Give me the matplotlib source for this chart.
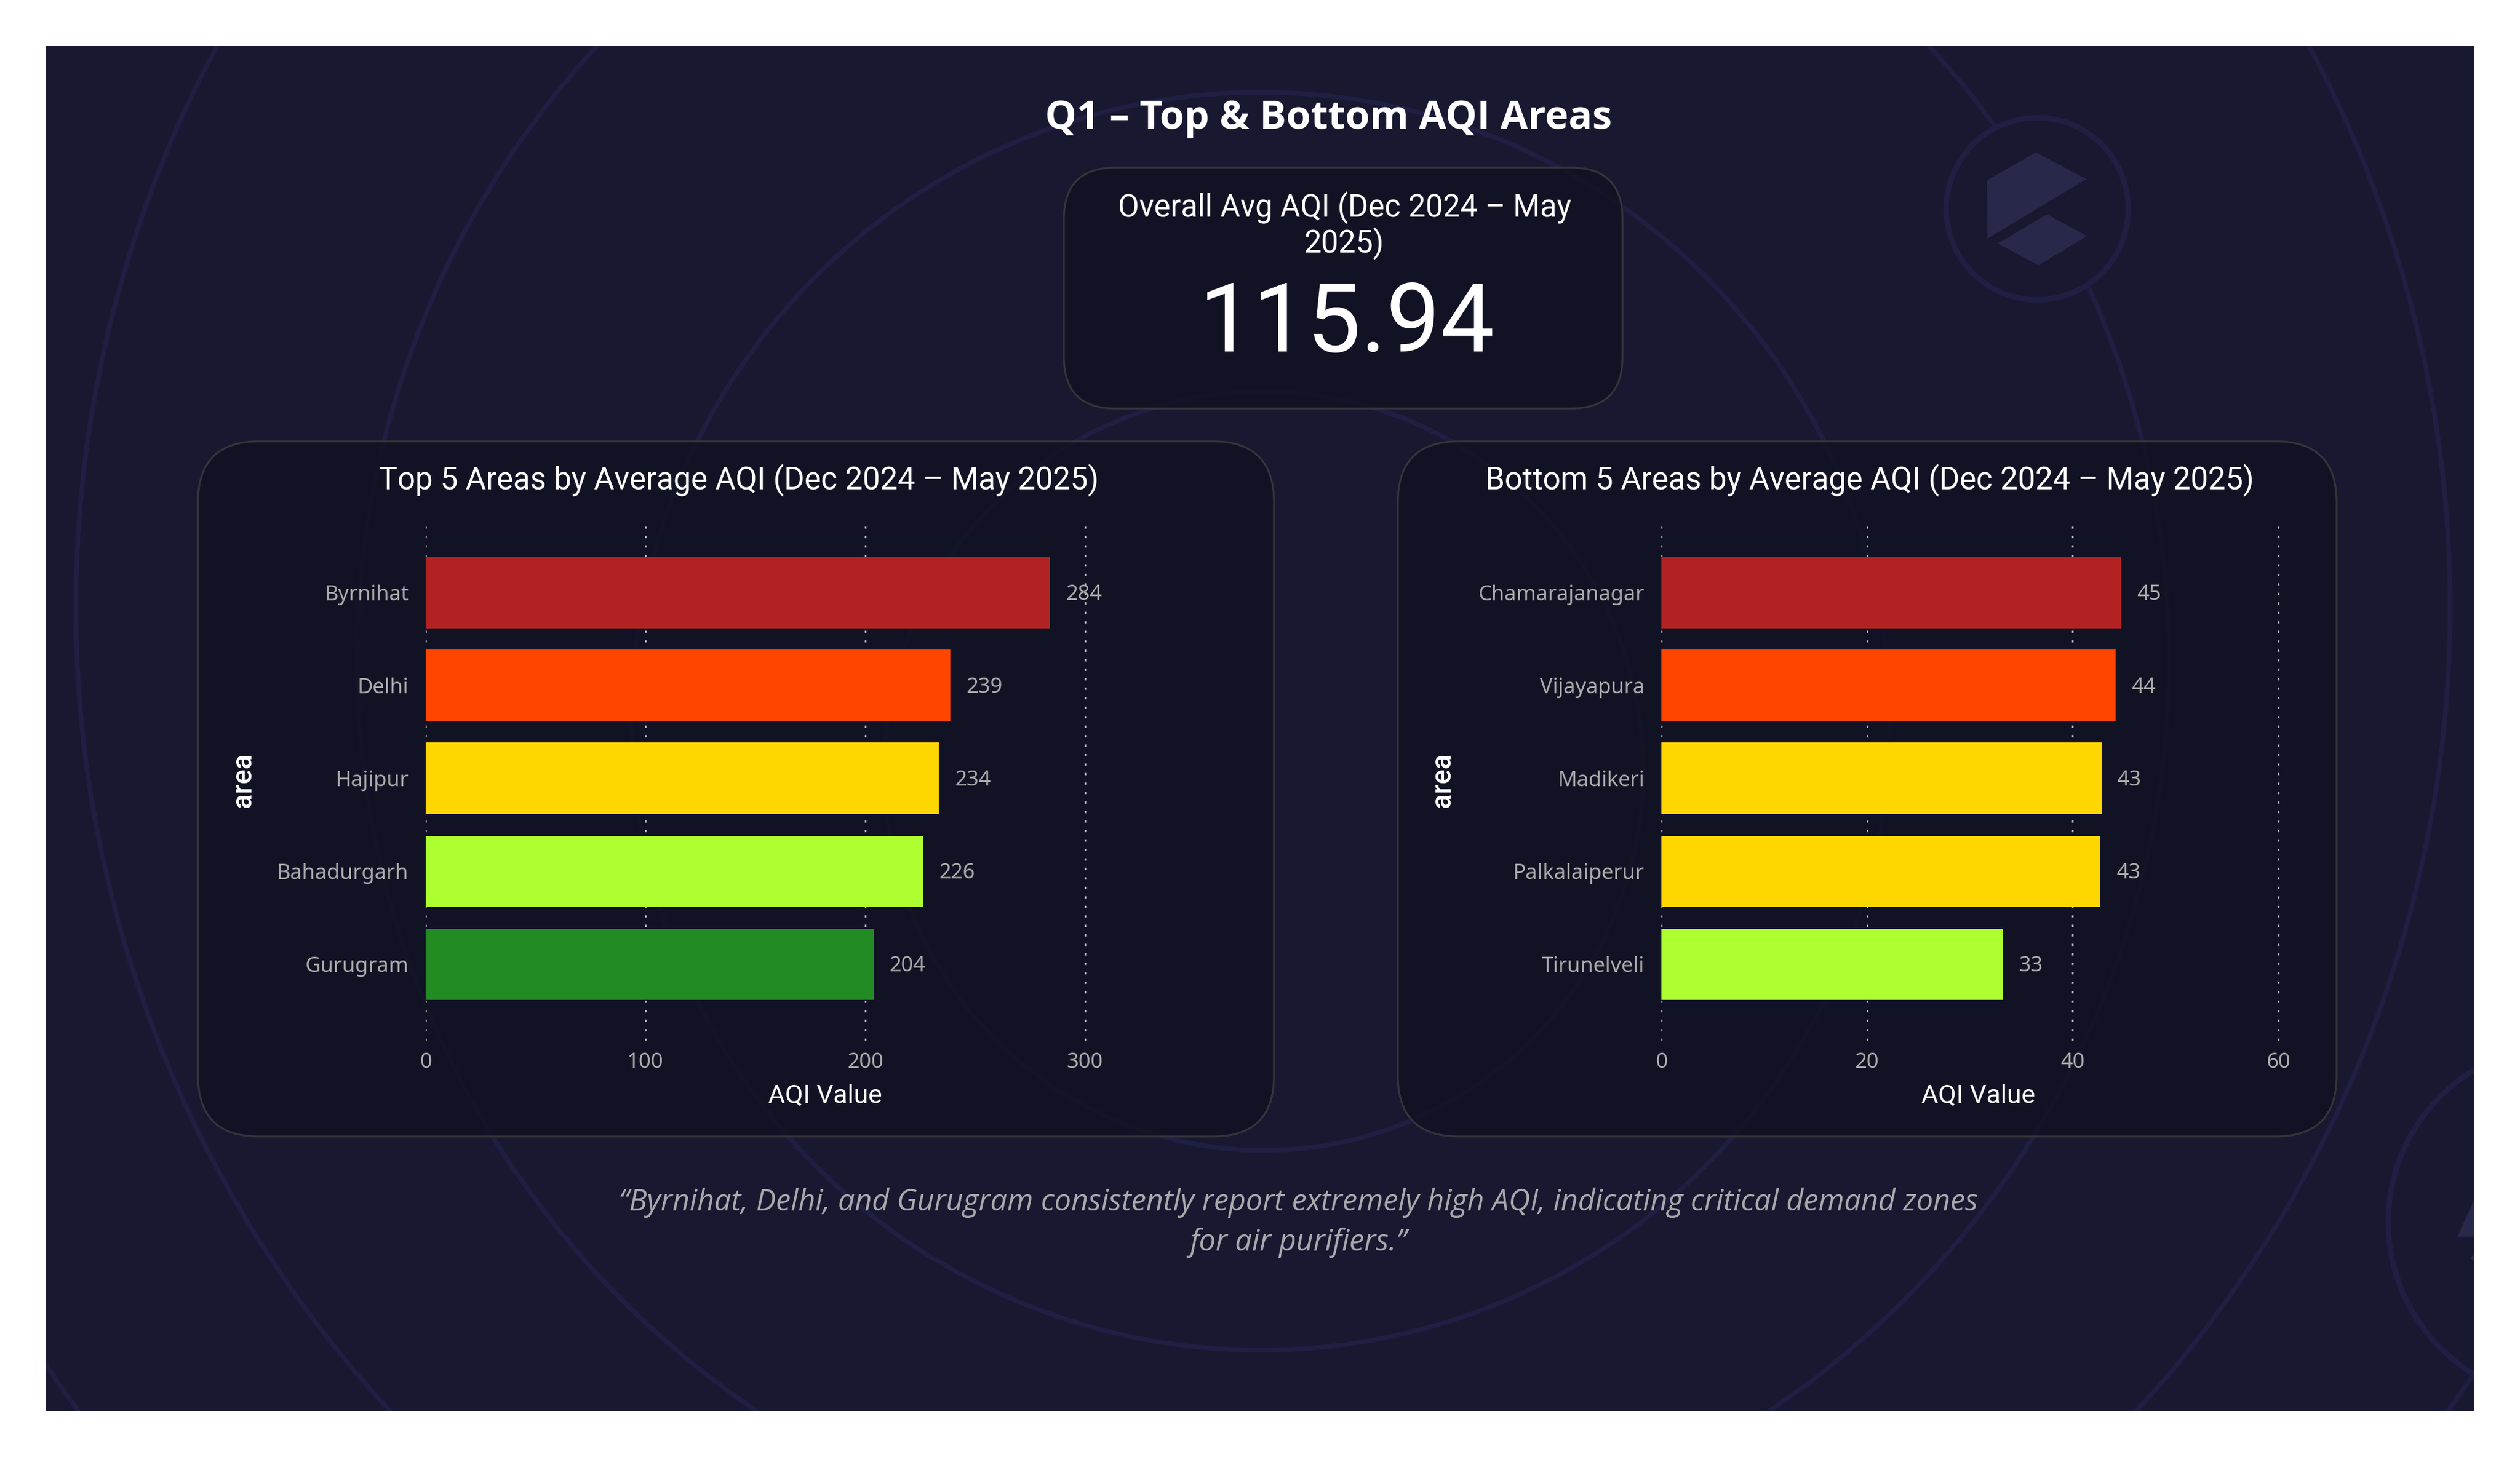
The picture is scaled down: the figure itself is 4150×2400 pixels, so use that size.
"""
Q1 - Top and bottom AQI areas, dark slide with two bar panels and one KPI card.
"""

import matplotlib
matplotlib.use("Agg")
import matplotlib.pyplot as plt
from matplotlib.patches import Circle, FancyBboxPatch, Polygon, Rectangle

W, H = 4150, 2400
DPI = 100

BG = '#181930'
RING = '#1e1f42'
LOGO = '#27284a'
CARD = '#111324'
CARD_EDGE = '#38383c'
GRID = '#c8c8c8'
TICK = '#ababab'

HEAD_FONT = ['Roboto', 'DejaVu Sans']
BODY_FONT = ['Noto Sans', 'DejaVu Sans']

top_areas = ['Byrnihat', 'Delhi', 'Hajipur', 'Bahadurgarh', 'Gurugram']
top_values = [284.0, 238.8, 233.6, 226.3, 203.8]
top_colors = ['#b22222', '#ff4500', '#ffd700', '#adff2f', '#228b22']
top_ticks = [0, 100, 200, 300]

bottom_areas = ['Chamarajanagar', 'Vijayapura', 'Madikeri', 'Palkalaiperur', 'Tirunelveli']
bottom_values = [44.7, 44.2, 42.8, 42.7, 33.2]
bottom_colors = ['#b22222', '#ff4500', '#ffd700', '#ffd700', '#adff2f']
bottom_ticks = [0, 20, 40, 60]

overall_avg = 115.94


# =============================================================================
# helpers
# =============================================================================

def card(bg, x0, y0, x1, y1, radius):
    box = FancyBboxPatch((x0 + radius, y0 + radius), x1 - x0 - 2 * radius, y1 - y0 - 2 * radius,
                         boxstyle=f'round,pad={radius},rounding_size={radius}',
                         facecolor=CARD, edgecolor=CARD_EDGE, linewidth=2.2, alpha=0.9, zorder=3)
    bg.add_patch(box)


def bar_panel(fig, bg, left, right, xmax, areas, values, colors, ticks, title, title_x,
              ylabel_x, label_gap):
    top, bottom = 867, 1714
    ax = fig.add_axes([left / W, 1 - bottom / H, (right - left) / W, (bottom - top) / H])
    ax.patch.set_alpha(0)
    ax.barh(range(len(areas)), values, height=0.768, color=colors, zorder=3)
    ax.set_ylim(4.82, -0.712)
    ax.set_xlim(0, xmax)
    ax.set_yticks(range(len(areas)))
    ax.set_yticklabels(areas, fontsize=25, color=TICK, family=BODY_FONT)
    ax.set_xticks(ticks)
    ax.set_xticklabels([str(t) for t in ticks], fontsize=25, color=TICK, family=BODY_FONT)
    ax.tick_params(axis='y', length=0, pad=20)
    ax.tick_params(axis='x', length=0, pad=14)
    for side in ax.spines:
        ax.spines[side].set_visible(False)
    ax.set_axisbelow(True)
    ax.grid(True, axis='x', color=GRID, linewidth=1.8, linestyle=(0, (1.5, 4.75)))

    for i, v in enumerate(values):
        ax.annotate(f'{v:.0f}', (v, i), xytext=(label_gap, -3), textcoords='offset pixels',
                    va='center', ha='left', fontsize=25, color=TICK, family=BODY_FONT, zorder=5)

    bg.text(title_x, 791, title, ha='center', va='center', fontsize=37, color='white',
            family=HEAD_FONT, zorder=5)
    bg.text((left + right) / 2, 1805, 'AQI Value', ha='center', va='center', fontsize=31,
            color='white', family=HEAD_FONT, zorder=5)
    bg.text(ylabel_x, 1285, 'area', ha='center', va='center', rotation=90, fontsize=33,
            color='white', family=HEAD_FONT, weight='medium', zorder=5)


# =============================================================================
# background
# =============================================================================

fig = plt.figure(figsize=(W / DPI, H / DPI), dpi=DPI, facecolor='white')
bg = fig.add_axes([0, 0, 1, 1])
bg.set_xlim(0, W)
bg.set_ylim(H, 0)
bg.axis('off')

panel = Rectangle((75, 75), 4000, 2250, facecolor=BG, edgecolor='none', zorder=0)
bg.add_patch(panel)

# large off-centre rings, clipped to the dark panel
rings = [(2081, 1270, 625), (2076, 1188, 1036), (2080, 1087, 1492), (2080, 1000, 1955),
         (2080, 920, 2404)]
for cx, cy, r in rings:
    c = Circle((cx, cy), r, facecolor='none', edgecolor=RING, linewidth=5.5, zorder=1)
    bg.add_patch(c)
    c.set_clip_path(panel)

# logo badges sit on top of the rings and hide them
badges = [(3355, 344, 150), (4226, 2013, 293)]
for cx, cy, r in badges:
    c = Circle((cx, cy), r, facecolor=BG, edgecolor=RING, linewidth=6.5, zorder=1.5)
    bg.add_patch(c)
    c.set_clip_path(panel)

logo_shapes = [[(3353, 251), (3436, 295), (3273, 393), (3272, 297)],
               [(3371, 353), (3437, 389), (3357, 437), (3290, 401)],
               [(4047, 2037), (4103, 1913), (4170, 2037)],
               [(4068, 2072), (4090, 2052), (4110, 2072), (4090, 2092)]]
for pts in logo_shapes:
    p = Polygon(pts, closed=True, facecolor=LOGO, edgecolor='none', zorder=2)
    bg.add_patch(p)
    p.set_clip_path(panel)


# =============================================================================
# cards
# =============================================================================

card(bg, 1752, 276, 2672, 673, 85)
card(bg, 326, 727, 2098, 1872, 100)
card(bg, 2302, 727, 3848, 1872, 100)

bg.text(2188, 196, 'Q1 – Top & Bottom AQI Areas', ha='center', va='center', fontsize=47,
        color='white', family=['Open Sans', 'DejaVu Sans'], weight='bold', zorder=5)
bg.text(2214, 342, 'Overall Avg AQI (Dec 2024 – May', ha='center', va='center', fontsize=36.5,
        color='white', family=HEAD_FONT, zorder=5)
bg.text(2214, 401, '2025)', ha='center', va='center', fontsize=36.5,
        color='white', family=HEAD_FONT, zorder=5)
bg.text(2218, 536, f'{overall_avg:.2f}', ha='center', va='center', fontsize=114,
        color='white', family=HEAD_FONT, zorder=5)

bar_panel(fig, bg, 701, 2017, 363.6, top_areas, top_values, top_colors, top_ticks,
          'Top 5 Areas by Average AQI (Dec 2024 – May 2025)', 1217, 400, 26)
bar_panel(fig, bg, 2736, 3779, 61.6, bottom_areas, bottom_values, bottom_colors, bottom_ticks,
          'Bottom 5 Areas by Average AQI (Dec 2024 – May 2025)', 3079, 2375, 26)

bg.text(2138, 1981, '“Byrnihat, Delhi, and Gurugram consistently report extremely high AQI, '
        'indicating critical demand zones', ha='center', va='center', fontsize=35.3, style='italic',
        color='#a9a9ad', family=['Open Sans', 'DejaVu Sans'], zorder=5)
bg.text(2138, 2047, 'for air purifiers.”', ha='center', va='center', fontsize=35.3, style='italic',
        color='#a9a9ad', family=['Open Sans', 'DejaVu Sans'], zorder=5)

fig.savefig('out.png', dpi=DPI, facecolor='white')
